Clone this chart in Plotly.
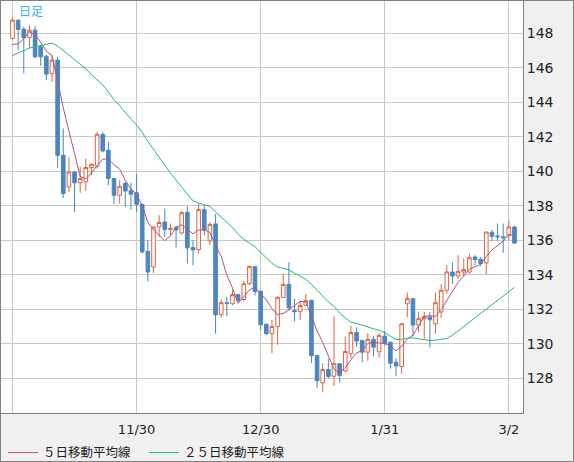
import pandas as pd
import plotly.graph_objects as go

# daily bars, weekdays 2022/10/31 - 2023/03/03
dates = [
    "2022-10-31", "2022-11-01", "2022-11-02", "2022-11-03", "2022-11-04",
    "2022-11-07", "2022-11-08", "2022-11-09", "2022-11-10", "2022-11-11",
    "2022-11-14", "2022-11-15", "2022-11-16", "2022-11-17", "2022-11-18",
    "2022-11-21", "2022-11-22", "2022-11-23", "2022-11-24", "2022-11-25",
    "2022-11-28", "2022-11-29", "2022-11-30", "2022-12-01", "2022-12-02",
    "2022-12-05", "2022-12-06", "2022-12-07", "2022-12-08", "2022-12-09",
    "2022-12-12", "2022-12-13", "2022-12-14", "2022-12-15", "2022-12-16",
    "2022-12-19", "2022-12-20", "2022-12-21", "2022-12-22", "2022-12-23",
    "2022-12-26", "2022-12-27", "2022-12-28", "2022-12-29", "2022-12-30",
    "2023-01-02", "2023-01-03", "2023-01-04", "2023-01-05", "2023-01-06",
    "2023-01-09", "2023-01-10", "2023-01-11", "2023-01-12", "2023-01-13",
    "2023-01-16", "2023-01-17", "2023-01-18", "2023-01-19", "2023-01-20",
    "2023-01-23", "2023-01-24", "2023-01-25", "2023-01-26", "2023-01-27",
    "2023-01-30", "2023-01-31", "2023-02-01", "2023-02-02", "2023-02-03",
    "2023-02-06", "2023-02-07", "2023-02-08", "2023-02-09", "2023-02-10",
    "2023-02-13", "2023-02-14", "2023-02-15", "2023-02-16", "2023-02-17",
    "2023-02-20", "2023-02-21", "2023-02-22", "2023-02-23", "2023-02-24",
    "2023-02-27", "2023-02-28", "2023-03-01", "2023-03-02", "2023-03-03",
]
opens = [
    147.71, 148.77, 148.25, 147.77, 148.19, 147.22, 146.68, 145.68, 146.45, 140.93,
    139.09, 139.96, 139.33, 139.38, 140.22, 140.30, 142.14, 141.22, 139.58, 138.61,
    139.29, 138.90, 138.75, 138.07, 135.36, 134.45, 136.77, 137.06, 136.62, 136.75,
    136.42, 137.62, 135.58, 135.46, 137.78, 135.97, 136.95, 131.68, 132.38, 132.32,
    132.85, 132.56, 133.48, 134.47, 133.04, 131.12, 130.58, 131.00, 132.69, 133.44,
    131.92, 131.86, 132.22, 132.51, 129.32, 127.73, 128.50, 128.11, 128.84, 128.43,
    129.42, 130.65, 130.19, 129.51, 130.25, 129.53, 130.44, 130.09, 128.93, 128.68,
    132.32, 132.61, 131.08, 131.45, 131.55, 131.16, 131.84, 133.10, 134.16, 133.93,
    134.16, 134.16, 135.03, 134.90, 134.69, 136.46, 136.25, 136.20, 136.27, 136.77,
]
highs = [
    148.93, 148.80, 148.39, 148.48, 148.43, 147.26, 146.74, 146.74, 146.64, 142.49,
    140.80, 140.00, 140.26, 140.74, 140.47, 142.29, 142.29, 141.71, 139.60, 139.48,
    139.38, 139.33, 139.87, 138.13, 136.00, 136.81, 137.45, 137.84, 136.97, 136.85,
    137.70, 137.97, 136.00, 138.15, 138.03, 137.06, 137.53, 132.56, 132.71, 133.14,
    132.90, 133.64, 134.55, 134.49, 133.10, 131.20, 131.39, 132.75, 134.07, 134.72,
    132.61, 132.51, 132.88, 132.55, 129.35, 128.86, 129.13, 131.59, 128.86, 130.40,
    131.05, 130.95, 130.20, 130.62, 130.46, 130.65, 130.72, 130.10, 129.14, 131.20,
    132.97, 132.63, 131.86, 131.84, 131.84, 132.96, 133.46, 134.55, 134.72, 135.13,
    134.96, 135.22, 135.13, 135.03, 136.50, 136.62, 136.97, 136.97, 137.14, 136.85,
]
lows = [
    147.65, 147.04, 145.68, 147.13, 146.55, 146.12, 145.29, 145.19, 140.20, 138.46,
    138.80, 137.64, 138.75, 138.86, 139.77, 140.16, 141.10, 139.19, 138.09, 138.13,
    137.93, 137.76, 137.64, 135.23, 133.62, 134.10, 136.19, 136.19, 136.29, 135.57,
    136.35, 134.65, 134.55, 135.23, 136.29, 135.71, 130.58, 131.51, 131.59, 132.22,
    132.42, 132.46, 133.39, 132.80, 130.77, 130.50, 129.45, 129.94, 132.65, 131.93,
    131.30, 131.37, 132.20, 128.87, 127.44, 127.19, 127.98, 127.54, 127.75, 128.32,
    129.15, 129.82, 128.93, 129.01, 129.26, 129.20, 129.88, 128.55, 128.11, 128.25,
    131.55, 130.42, 130.68, 130.29, 129.78, 130.58, 131.50, 132.90, 133.48, 133.77,
    133.90, 134.07, 134.55, 134.50, 134.02, 135.94, 135.94, 135.27, 136.04, 135.78,
]
closes = [
    148.77, 148.23, 147.75, 148.19, 146.64, 146.64, 145.64, 146.45, 140.93, 138.71,
    139.96, 139.33, 139.58, 140.22, 140.41, 142.15, 141.18, 139.58, 138.61, 139.13,
    138.86, 138.67, 138.09, 135.32, 134.16, 136.77, 137.03, 136.62, 136.68, 136.60,
    137.60, 135.56, 135.44, 137.78, 136.60, 136.92, 131.68, 132.38, 132.33, 132.85,
    132.51, 133.48, 134.47, 133.02, 131.10, 130.58, 131.00, 132.69, 133.44, 132.08,
    131.86, 132.22, 132.50, 129.30, 127.85, 128.50, 128.10, 128.84, 128.15, 129.55,
    130.65, 130.15, 129.51, 130.25, 129.80, 130.48, 130.02, 128.87, 128.71, 131.16,
    132.63, 131.08, 131.45, 131.58, 131.39, 132.38, 133.10, 134.16, 133.93, 134.20,
    134.31, 134.99, 134.88, 134.65, 136.48, 136.23, 136.20, 136.15, 136.77, 135.84,
]
# closes of the 24 days before the first bar, only used to start the averages
closes_before = [
    144.8, 144.1, 144.4, 144.7, 144.8, 144.1, 144.6, 145.1, 145.3, 145.7, 145.8, 146.9,
    147.2, 148.7, 149.0, 149.2, 149.9, 150.1, 147.7, 149.0, 148.0, 146.3, 146.2, 147.5,
]

tick_dates = ["2022-10-31", "2022-11-30", "2022-12-30", "2023-01-31", "2023-03-02"]
tick_labels = ["", "11/30", "12/30", "1/31", "3/2"]
price_ticks = [128, 130, 132, 134, 136, 138, 140, 142, 144, 146, 148]

all_closes = pd.Series(closes_before + closes)
ma5 = all_closes.rolling(5).mean().iloc[len(closes_before):].tolist()
ma25 = all_closes.rolling(25).mean().iloc[len(closes_before):].tolist()

UP = '#dc6440'
DOWN = '#4a86c0'

fig = go.Figure()

fig.add_trace(go.Candlestick(
    x=dates, open=opens, high=highs, low=lows, close=closes,
    increasing=dict(line=dict(color=UP, width=1), fillcolor='white'),
    decreasing=dict(line=dict(color=DOWN, width=1), fillcolor=DOWN),
    showlegend=False, name='日足'))

fig.add_trace(go.Scatter(x=dates, y=ma5, mode='lines', name='５日移動平均線',
                         line=dict(color='#b3527e', width=1)))
fig.add_trace(go.Scatter(x=dates, y=ma25, mode='lines', name='２５日移動平均線',
                         line=dict(color='#2db57a', width=1)))

fig.update_layout(
    width=574, height=462,
    margin=dict(l=1, r=51, t=1, b=49, autoexpand=False),
    paper_bgcolor='#f0f0f0', plot_bgcolor='white',
    font=dict(family='DejaVu Sans', color='#222222'),
    boxgap=0.2, boxgroupgap=0.2,
    legend=dict(orientation='h', x=0.004, xanchor='left', y=-0.097, yanchor='middle',
                font=dict(family='Noto Sans CJK JP', size=12.5, color='#222222'),
                bgcolor='rgba(0,0,0,0)', entrywidth=96, entrywidthmode='pixels'),
    hovermode=False,
)

fig.update_xaxes(
    type='category', range=[-2.04, 90.51], rangeslider=dict(visible=False),
    tickmode='array', tickvals=tick_dates, ticktext=tick_labels,
    showgrid=True, gridcolor='#c8c8c8', gridwidth=1,
    showline=True, mirror=True, linecolor='#808080', linewidth=1,
    ticks='', tickfont=dict(size=13), ticklabelstandoff=4, zeroline=False,
)
fig.update_yaxes(
    side='right', range=[125.98, 149.88],
    tickmode='array', tickvals=price_ticks,
    showgrid=True, gridcolor='#c8c8c8', gridwidth=1,
    showline=True, mirror=True, linecolor='#808080', linewidth=1,
    ticks='', tickfont=dict(size=14), zeroline=False,
)

fig.add_annotation(text='日足', xref='paper', yref='paper', x=0.030, y=0.977,
                   xanchor='left', yanchor='middle', showarrow=False,
                   font=dict(family='Noto Sans CJK JP', size=12, color='#3ab0e6'))

# outer frame around the whole picture
fig.add_shape(type='rect', xref='paper', yref='paper',
              x0=-0.00096, x1=1.09674, y0=-0.1177, y1=1.0012,
              line=dict(color='#808080', width=1))

# page body margin would push the chart off its frame
fig.write_html("out.html", config={'displayModeBar': False},
               post_script="document.body.style.margin = '0';")
